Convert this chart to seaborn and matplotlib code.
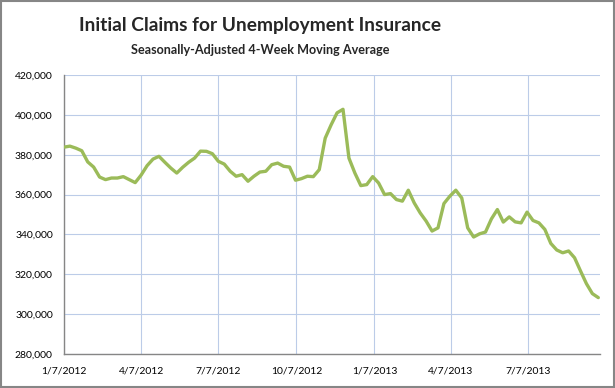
import numpy as np
import pandas as pd
import matplotlib
matplotlib.use("Agg")
import matplotlib.pyplot as plt
import matplotlib.dates as mdates
import matplotlib.ticker as mticker
import seaborn as sns

# Weekly 4-week moving average of initial claims
start_week = "2012-01-07"
claims = [
    383800, 384300, 383300, 382000, 376400, 373800, 368800, 367500, 368300, 368300,
    369000, 367500, 366000, 369800, 374500, 377800, 379200, 376200, 373300, 370800,
    373700, 376200, 378300, 381800, 381700, 380500, 376700, 375300, 371700, 369200,
    370000, 366700, 369200, 371300, 371700, 375000, 375800, 374200, 373800, 367200,
    368000, 369200, 369000, 372500, 388300, 395000, 401000, 402800, 378300, 370800,
    364500, 365000, 369000, 365800, 360000, 360500, 357500, 356700, 362200, 355800,
    350800, 346700, 341700, 343300, 355500, 359200, 362200, 358300, 343300, 338700,
    340300, 341200, 347800, 352500, 346200, 348800, 346300, 345800, 351200, 347000,
    345800, 342500, 335500, 332200, 330800, 331700, 328300, 321700, 315300, 310300,
    308300,
]
tick_dates = ["2012-01-07", "2012-04-07", "2012-07-07", "2012-10-07",
              "2013-01-07", "2013-04-07", "2013-07-07"]
y_ticks = list(range(280000, 420001, 20000))

title = "Initial Claims for Unemployment Insurance"
subtitle = "Seasonally-Adjusted 4-Week Moving Average"

df = pd.DataFrame({
    "week": pd.date_range(start_week, periods=len(claims), freq="7D"),
    "claims": claims,
})

sns.set_style("white")
plt.rcParams["font.family"] = ["Lato", "DejaVu Sans"]

fig = plt.figure(figsize=(6.15, 3.88), dpi=100)
ax = fig.add_axes([0.104, 0.0876, 0.8716, 0.7191])

sns.lineplot(data=df, x="week", y="claims", ax=ax, color="#9bbb59",
             linewidth=2.4, zorder=3)

grid_col = "#bccce8"
ax.set_ylim(280000, 420000)
ax.set_xlim(pd.Timestamp("2012-01-07"), pd.Timestamp("2013-09-30"))
ax.set_yticks(y_ticks)
ax.yaxis.set_major_formatter(mticker.StrMethodFormatter("{x:,.0f}"))
ax.set_xticks(pd.to_datetime(tick_dates))
ax.xaxis.set_major_formatter(mdates.DateFormatter("%-m/%-d/%Y"))
ax.grid(True, color=grid_col, linewidth=0.8)
ax.set_axisbelow(True)
ax.set_xlabel("")
ax.set_ylabel("")

for side in ["top", "right"]:
    ax.spines[side].set_visible(False)
for side in ["left", "bottom"]:
    ax.spines[side].set_color("#868686")
    ax.spines[side].set_linewidth(1.0)

ax.tick_params(axis="both", which="major", direction="out", length=5,
               color="#868686", labelsize=7.5, labelcolor="black")
ax.tick_params(axis="y", pad=3)
ax.tick_params(axis="x", pad=4)

fig.text(0.423, 0.935, title, ha="center", va="center",
         fontsize=13.8, fontweight="bold")
fig.text(0.423, 0.871, subtitle, ha="center", va="center",
         fontsize=9.1, fontweight="bold")

# chart border
fig.patches.append(plt.Rectangle((0.002, 0.003), 0.996, 0.994, transform=fig.transFigure,
                                 fill=False, edgecolor="#868686", linewidth=1.5))

fig.savefig("out.png", dpi=100)
